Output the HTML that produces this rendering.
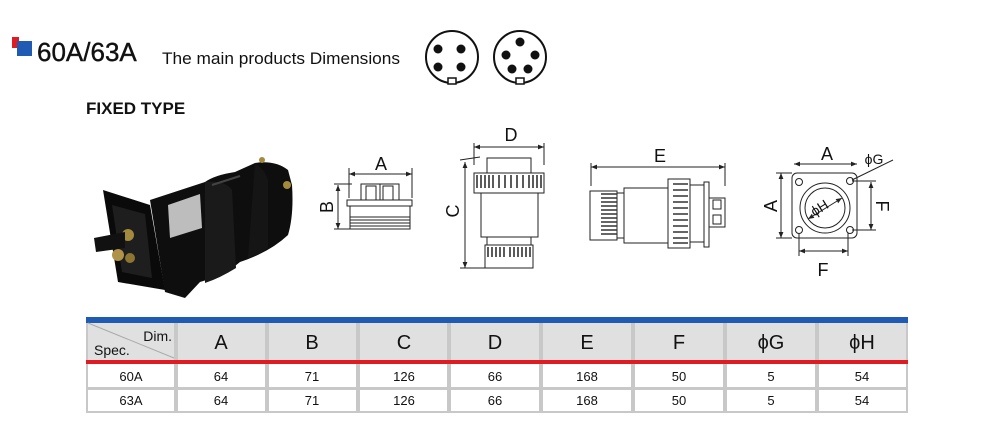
<!DOCTYPE html>
<html><head><meta charset="utf-8"><style>
html,body{margin:0;padding:0;background:#fff;}
svg{display:block;}
text{font-family:"Liberation Sans",sans-serif;}
</style></head><body>
<svg width="1000" height="448" viewBox="0 0 1000 448" xmlns="http://www.w3.org/2000/svg">
<defs>
<marker id="ar" viewBox="0 0 10 10" refX="10" refY="5" markerWidth="6" markerHeight="6" orient="auto-start-reverse"><path d="M0,1 L10,5 L0,9 z" fill="#222"/></marker>
</defs>
<!-- header -->
<rect x="12" y="37" width="7" height="11" fill="#e01b22"/>
<rect x="17" y="41" width="15" height="15" fill="#1f5bb3"/>
<text x="37" y="61" font-size="26" fill="#111" stroke="#111" stroke-width="0.4">60A/63A</text>
<text x="162" y="64" font-size="17" fill="#111" textLength="238" lengthAdjust="spacingAndGlyphs">The main products Dimensions</text>
<g fill="none" stroke="#111" stroke-width="2">
<circle cx="452" cy="57" r="26"/><circle cx="520" cy="57" r="26"/>
</g>
<g fill="#111">
<circle cx="438" cy="49" r="4.5"/><circle cx="461" cy="49" r="4.5"/><circle cx="438" cy="67" r="4.5"/><circle cx="461" cy="67" r="4.5"/>
<circle cx="520" cy="42" r="4.5"/><circle cx="506" cy="55" r="4.5"/><circle cx="535" cy="55" r="4.5"/><circle cx="512" cy="69" r="4.5"/><circle cx="528" cy="69" r="4.5"/>
</g>
<g stroke="#111" stroke-width="1.5" fill="#fff"><rect x="448" y="78" width="8" height="6"/><rect x="516" y="78" width="8" height="6"/></g>
<text x="86" y="114" font-size="17" font-weight="bold" fill="#111">FIXED TYPE</text>

<!-- photo -->
<path d="M150,200 L205,182 Q215,175 235,172 L255,163 Q275,160 288,170 L292,185 Q294,215 288,235 Q270,252 240,262 Q225,275 200,282 L185,298 L165,292 Z" fill="#0e0e0e"/>
<path d="M205,182 Q225,180 232,190 L236,268 Q220,278 205,283 Z" fill="#1a1a1a"/>
<path d="M255,163 Q265,170 268,180 L268,248 Q258,255 248,258 Z" fill="#151515"/>
<polygon points="168,205 200,194 202,228 170,238" fill="#bdbdbd"/>
<line x1="212" y1="185" x2="240" y2="176" stroke="#444" stroke-width="2"/>
<polygon points="103,190 150,205 165,290 118,282" fill="#0a0a0a"/>
<polygon points="112,205 145,214 152,278 122,272" fill="#1e1e1e"/>
<circle cx="128" cy="235" r="6" fill="#a38a3c"/><circle cx="118" cy="255" r="6" fill="#b09348"/><circle cx="130" cy="258" r="5" fill="#8d7532"/>
<polygon points="94,238 125,232 125,248 96,252" fill="#111"/>
<circle cx="287" cy="185" r="4" fill="#a38a3c"/>
<circle cx="262" cy="160" r="3" fill="#a38a3c"/>

<!-- drawing B / A -->
<g stroke="#222" stroke-width="1" fill="#fff">
<rect x="361" y="184" width="38" height="16"/>
<rect x="366" y="186" width="10" height="14"/><rect x="383" y="186" width="10" height="14"/>
<line x1="380" y1="184" x2="380" y2="200"/>
<rect x="347" y="200" width="65" height="6"/>
<rect x="350" y="206" width="60" height="23"/>
<line x1="350" y1="217" x2="410" y2="217"/><line x1="350" y1="220" x2="410" y2="220"/><line x1="350" y1="223" x2="410" y2="223"/><line x1="350" y1="226" x2="410" y2="226"/>
<line x1="349" y1="174" x2="412" y2="174" marker-start="url(#ar)" marker-end="url(#ar)"/>
<line x1="349" y1="168" x2="349" y2="198"/><line x1="412" y1="168" x2="412" y2="198"/>
<line x1="338" y1="185" x2="338" y2="229" marker-start="url(#ar)" marker-end="url(#ar)"/>
<line x1="334" y1="184" x2="352" y2="184"/><line x1="334" y1="229" x2="350" y2="229"/>
</g>
<text x="381" y="170" font-size="18" text-anchor="middle" fill="#111">A</text>
<text transform="translate(333,207) rotate(-90)" font-size="18" text-anchor="middle" fill="#111">B</text>

<!-- drawing C / D -->
<g stroke="#222" stroke-width="1" fill="#fff">
<rect x="487" y="158" width="44" height="15"/>
<rect x="474" y="173" width="70" height="20"/>
<rect x="481" y="193" width="57" height="44"/>
<rect x="487" y="237" width="44" height="8"/>
<rect x="485" y="245" width="48" height="23"/>
<line x1="474" y1="147" x2="544" y2="147" marker-start="url(#ar)" marker-end="url(#ar)"/>
<line x1="474" y1="143" x2="474" y2="165"/><line x1="544" y1="143" x2="544" y2="165"/>
<line x1="465" y1="162" x2="465" y2="268" marker-start="url(#ar)" marker-end="url(#ar)"/>
<line x1="460" y1="160" x2="480" y2="157"/><line x1="460" y1="268" x2="485" y2="268"/>
</g>
<g stroke="#333" stroke-width="1.6">
<path d="M477,175v13M481,175v13M485,175v13M489,175v13M493,175v13M499,175v13M505,175v13M511,175v13M517,175v13M523,175v13M529,175v13M533,175v13M537,175v13M541,175v13"/>
<path d="M488,247v10M492,247v10M496,247v10M500,247v10M504,247v10M510,247v10M514,247v10M518,247v10M522,247v10M526,247v10M530,247v10"/>
</g>
<text x="511" y="141" font-size="18" text-anchor="middle" fill="#111">D</text>
<text transform="translate(459,211) rotate(-90)" font-size="18" text-anchor="middle" fill="#111">C</text>

<!-- drawing E -->
<g stroke="#222" stroke-width="1" fill="#fff">
<rect x="590" y="191" width="27" height="49"/>
<rect x="617" y="193" width="7" height="45"/>
<rect x="624" y="188" width="44" height="55"/>
<rect x="668" y="179" width="22" height="69"/>
<rect x="690" y="185" width="14" height="57"/>
<rect x="704" y="182" width="5" height="65"/>
<rect x="709" y="198" width="16" height="29"/>
<rect x="713" y="200" width="8" height="9"/><rect x="713" y="215" width="8" height="9"/>
<line x1="591" y1="167" x2="725" y2="167" marker-start="url(#ar)" marker-end="url(#ar)"/>
<line x1="591" y1="163" x2="591" y2="186"/><line x1="725" y1="163" x2="725" y2="186"/>
</g>
<g stroke="#333" stroke-width="1.6">
<path d="M601,194h16M601,198h16M601,202h16M601,206h16M601,210h16M601,214h16M601,218h16M601,222h16M601,226h16M601,230h16M601,234h16"/>
<path d="M673,184h15M673,190h15M673,196h15M673,202h15M673,208h15M673,214h15M673,220h15M673,226h15M673,232h15M673,238h15M673,243h15"/>
</g>
<text x="660" y="162" font-size="18" text-anchor="middle" fill="#111">E</text>

<!-- drawing flange -->
<g stroke="#222" stroke-width="1" fill="#fff">
<rect x="792" y="173" width="65" height="65" rx="5"/>
<circle cx="825" cy="208" r="25"/><circle cx="825" cy="208" r="20"/>
<circle cx="799" cy="182" r="3.5"/><circle cx="850" cy="181" r="3.5"/><circle cx="799" cy="230" r="3.5"/><circle cx="850" cy="230" r="3.5"/>
<line x1="808" y1="219" x2="842" y2="198" marker-start="url(#ar)" marker-end="url(#ar)"/>
<line x1="852" y1="180" x2="893" y2="160"/>
<line x1="794" y1="164" x2="857" y2="164" marker-start="url(#ar)" marker-end="url(#ar)"/>
<line x1="781" y1="173" x2="781" y2="238" marker-start="url(#ar)" marker-end="url(#ar)"/>
<line x1="776" y1="173" x2="792" y2="173"/><line x1="776" y1="238" x2="792" y2="238"/>
<line x1="871" y1="182" x2="871" y2="230" marker-start="url(#ar)" marker-end="url(#ar)"/>
<line x1="852" y1="181" x2="876" y2="181"/><line x1="852" y1="230" x2="876" y2="230"/>
<line x1="799" y1="251" x2="848" y2="251" marker-start="url(#ar)" marker-end="url(#ar)"/>
<line x1="799" y1="233" x2="799" y2="256"/><line x1="848" y1="233" x2="848" y2="256"/>
</g>
<text x="827" y="160" font-size="18" text-anchor="middle" fill="#111">A</text>
<text x="874" y="164" font-size="14" text-anchor="middle" fill="#111">ϕG</text>
<text transform="translate(822,212) rotate(-32)" font-size="14" text-anchor="middle" fill="#111">ϕH</text>
<text transform="translate(777,206) rotate(-90)" font-size="18" text-anchor="middle" fill="#111">A</text>
<text transform="translate(876,206) rotate(90)" font-size="18" text-anchor="middle" fill="#111">F</text>
<text x="823" y="276" font-size="18" text-anchor="middle" fill="#111">F</text>

<!-- table -->
<rect x="86" y="317" width="822" height="96" fill="#c8c8c8"/>
<rect x="86" y="317" width="822" height="6" fill="#1f5bb3"/>
<g fill="#e0e0e0">
<rect x="88" y="323" width="86" height="37"/><rect x="178" y="323" width="87" height="37"/><rect x="269" y="323" width="87" height="37"/><rect x="360" y="323" width="87" height="37"/><rect x="451" y="323" width="88" height="37"/><rect x="543" y="323" width="88" height="37"/><rect x="635" y="323" width="88" height="37"/><rect x="727" y="323" width="88" height="37"/><rect x="819" y="323" width="87" height="37"/>
</g>
<rect x="86" y="360" width="822" height="4" fill="#e01b22"/>
<g fill="#fff">
<rect x="88" y="364" width="86" height="23"/><rect x="178" y="364" width="87" height="23"/><rect x="269" y="364" width="87" height="23"/><rect x="360" y="364" width="87" height="23"/><rect x="451" y="364" width="88" height="23"/><rect x="543" y="364" width="88" height="23"/><rect x="635" y="364" width="88" height="23"/><rect x="727" y="364" width="88" height="23"/><rect x="819" y="364" width="87" height="23"/>
<rect x="88" y="390" width="86" height="21"/><rect x="178" y="390" width="87" height="21"/><rect x="269" y="390" width="87" height="21"/><rect x="360" y="390" width="87" height="21"/><rect x="451" y="390" width="88" height="21"/><rect x="543" y="390" width="88" height="21"/><rect x="635" y="390" width="88" height="21"/><rect x="727" y="390" width="88" height="21"/><rect x="819" y="390" width="87" height="21"/>
</g>
<line x1="88" y1="323" x2="174" y2="358" stroke="#aaa" stroke-width="1"/>
<text x="172" y="341" font-size="14" text-anchor="end" fill="#111">Dim.</text>
<text x="94" y="355" font-size="14" fill="#111">Spec.</text>
<g font-size="20" text-anchor="middle" fill="#111">
<text x="221" y="349">A</text><text x="312" y="349">B</text><text x="404" y="349">C</text><text x="495" y="349">D</text><text x="587" y="349">E</text><text x="679" y="349">F</text><text x="771" y="349">ϕG</text><text x="862" y="349">ϕH</text>
</g>
<g font-size="13" text-anchor="middle" fill="#111">
<text x="131" y="381">60A</text><text x="221" y="381">64</text><text x="312" y="381">71</text><text x="404" y="381">126</text><text x="495" y="381">66</text><text x="587" y="381">168</text><text x="679" y="381">50</text><text x="771" y="381">5</text><text x="862" y="381">54</text>
<text x="131" y="405">63A</text><text x="221" y="405">64</text><text x="312" y="405">71</text><text x="404" y="405">126</text><text x="495" y="405">66</text><text x="587" y="405">168</text><text x="679" y="405">50</text><text x="771" y="405">5</text><text x="862" y="405">54</text>
</g>
</svg>
</body></html>
